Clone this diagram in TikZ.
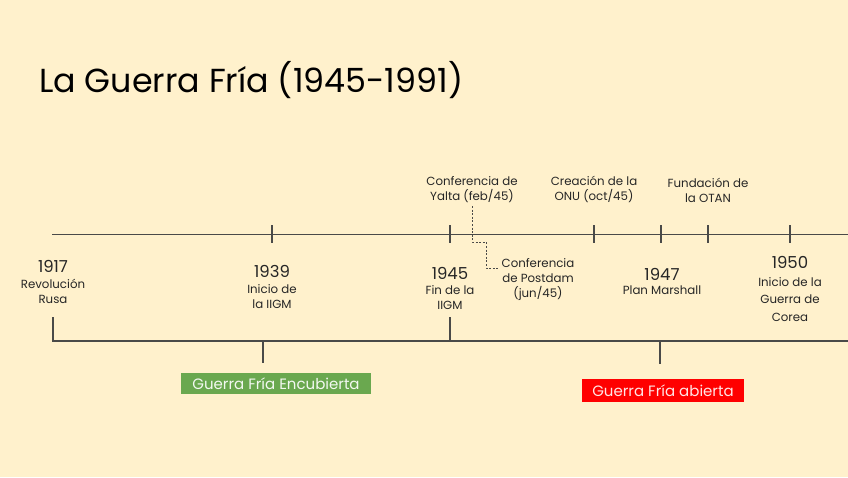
\documentclass[tikz,border=0pt]{standalone}
\usepackage{fontspec}
\setmainfont{Poppins}
\definecolor{bg}{HTML}{FFF1CC}
\definecolor{ln}{HTML}{4A4A48}
\definecolor{tx}{HTML}{262626}
\definecolor{gbox}{HTML}{6AA84F}
\definecolor{rbox}{HTML}{FF0000}
\tikzset{
  axis/.style={draw=ln, line width=1.2pt},
  tickmark/.style={draw=ln, line width=1.1pt},
  yearlbl/.style={text=tx, font=\fontsize{16.5}{18}\selectfont, inner sep=0pt},
  desclbl/.style={text=tx, font=\fontsize{11.8}{15}\selectfont, align=center, inner sep=0pt},
  widelbl/.style={text=tx, font=\fontsize{11.8}{17.5}\selectfont, align=center, inner sep=0pt},
  dashline/.style={draw=ln, line width=1pt, dash pattern=on 2pt off 1.6pt},
  periodbox/.style={font=\fontsize{15}{16}\selectfont, inner sep=0pt, minimum height=21pt, anchor=center},
}
\begin{document}
\begin{tikzpicture}[x=1pt,y=-1pt]
\fill[bg] (0,0) rectangle (848,477);
\useasboundingbox (0,0) rectangle (848,477);

% title
\node[anchor=west, text=black, font=\fontsize{33.3}{36}\selectfont, inner sep=0pt] (title) at (39,80) {La Guerra Fría (1945-1991)};

% main axis
\coordinate (ax0) at (52,234.5);
\coordinate (ax1) at (848,234.5);
\draw[axis] (ax0) -- (ax1);

% ticks
\foreach \n/\x in {t39/272, t45/450, tonu/594, t47/661, totan/708, t50/790}{
  \coordinate (\n a) at (\x,225);
  \coordinate (\n b) at (\x,243);
  \draw[tickmark] (\n a) -- (\n b);
}

% below labels
\node[yearlbl] (y17) at (53,266) {1917};
\node[desclbl, anchor=north] (d17) at (53,278.5) {Revolución\\Rusa};

\node[yearlbl] (y39) at (272,271.5) {1939};
\node[desclbl, anchor=north] (d39) at (272,284) {Inicio de\\la IIGM};

\node[yearlbl] (y45) at (450,273) {1945};
\node[desclbl, anchor=north] (d45) at (450,285) {Fin de la\\IIGM};

\node[desclbl, anchor=north] (dpot) at (538,258) {Conferencia\\de Postdam\\(jun/45)};

\node[yearlbl] (y47) at (662,274.5) {1947};
\node[desclbl, anchor=north] (d47) at (662,286) {Plan Marshall};

\node[yearlbl] (y50) at (790,262) {1950};
\node[widelbl, anchor=north] (d50) at (790,277) {Inicio de la\\Guerra de\\Corea};

% above labels
\node[desclbl, anchor=south] (yalta) at (472,203) {Conferencia de\\Yalta (feb/45)};
\node[desclbl, anchor=south] (onu) at (594,203) {Creación de la\\ONU (oct/45)};
\node[desclbl, anchor=south] (otan) at (708,203) {Fundación de\\la OTAN};

% dashed connector Yalta -> Postdam
\coordinate (dk0) at (472,206);
\coordinate (dk1) at (472,242);
\coordinate (dk2) at (486,242);
\coordinate (dk3) at (486,268);
\draw[dashline] (dk0) -- (dk1) -- (dk2) -- (dk3) -- ([xshift=-2pt]dpot.west |- dk3);

% bracket
\coordinate (bL) at (53,317);
\coordinate (bLc) at (53,341);
\coordinate (bM) at (450,317);
\coordinate (bMc) at (450,341);
\coordinate (bR) at (848,341);
\draw[axis] (bL) -- (bLc) -- (bR);
\draw[tickmark] (bM) -- (bMc);
\coordinate (p1a) at (263,341);
\coordinate (p1b) at (263,363);
\coordinate (p2a) at (660,341);
\coordinate (p2b) at (660,364);
\draw[tickmark] (p1a) -- (p1b);
\draw[tickmark] (p2a) -- (p2b);

% period boxes
\node[periodbox, fill=gbox, text=white!92!gbox, minimum width=190pt] (enc) at (276,383.5) {Guerra Fría Encubierta};
\node[periodbox, fill=rbox, text=white!90!rbox, minimum width=162pt, minimum height=23pt] (abi) at (663,390.5) {Guerra Fría abierta};
\end{tikzpicture}
\end{document}
